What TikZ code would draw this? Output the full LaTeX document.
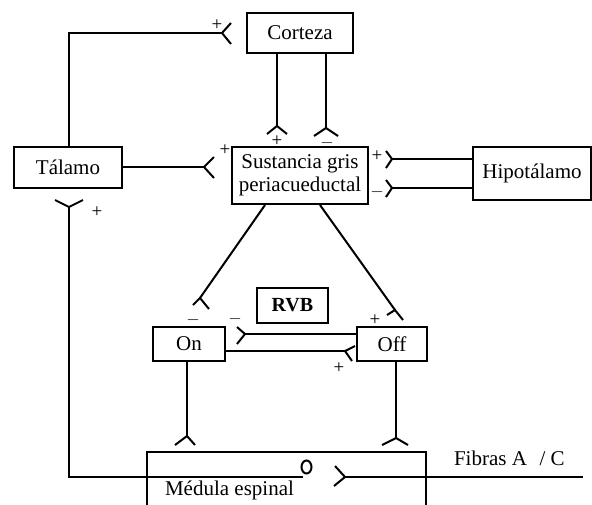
\documentclass[tikz,border=0pt]{standalone}
\usepackage{fontspec}
\setmainfont{Liberation Serif}
\begin{document}
\begin{tikzpicture}[x=1pt,y=-1pt,line width=2pt,
  box/.style={draw,line width=2pt,inner sep=0pt,font=\fontsize{21}{23}\selectfont,align=center},
  sgn/.style={inner sep=0pt,font=\fontsize{19}{19}\selectfont},
  txt/.style={inner sep=0pt,font=\fontsize{21}{23}\selectfont}]
\useasboundingbox (0,0) rectangle (592,504);
% boxes
\node[box,minimum width=106pt,minimum height=40pt] (cor) at (300,33) {Corteza};
\node[box,minimum width=108pt,minimum height=41pt] (tal) at (68,167.5) {Tálamo};
\node[box,minimum width=136pt,minimum height=57pt] (pag) at (300,175.5) {Sustancia gris\\periacueductal};
\node[box,minimum width=118pt,minimum height=53pt] (hip) at (532,173.5) {Hipotálamo};
\node[box,minimum width=71pt,minimum height=35pt,font=\fontsize{20}{22}\selectfont\bfseries] (rvb) at (292.5,305.5) {RVB};
\node[box,minimum width=72pt,minimum height=34pt] (on) at (189,344) {On};
\node[box,minimum width=70pt,minimum height=34pt] (off) at (392,344) {Off};
\node[box,minimum width=279pt,minimum height=78pt] (med) at (286.5,491) {};
\node[txt] (medl) at (229.5,490) {Médula espinal};
\node[txt,anchor=west] (fib) at (453,458) {Fibras A\hspace{0.6em}/ C};
% coordinates
\coordinate (tp) at (69,33);
\coordinate (f1) at (222,33);
\coordinate (f2) at (204,167);
\coordinate (f3) at (277,126);
\coordinate (f4) at (326,128);
\coordinate (f5) at (392,159);
\coordinate (f6) at (392,188);
\coordinate (f7) at (200,298);
\coordinate (f8) at (395,310);
\coordinate (f9) at (245,334);
\coordinate (f10) at (345,351);
\coordinate (f11) at (187,436);
\coordinate (f12) at (396,438);
\coordinate (f13) at (69,207);
\coordinate (c13) at (69,477);
\coordinate (o) at (303,477);
\coordinate (f14) at (345,477);
\coordinate (fe) at (583,477);
% Talamo -> Corteza
\draw (tal.north -| tp) -- (tp) -- (f1);
\draw (f1) ++(9,-10) -- (f1) -- ++(9,11);
\node[sgn] at (217,25) {+};
% Talamo -> PAG
\draw (tal.east |- f2) -- (f2);
\draw (f2) ++(10,-10) -- (f2) -- ++(10,11);
\node[sgn] at (225,150) {+};
% Corteza -> PAG
\draw (cor.south -| f3) -- (f3);
\draw (f3) ++(-10,8) -- (f3) -- ++(10,8);
\node[sgn] at (277,141) {+};
\draw (cor.south -| f4) -- (f4);
\draw (f4) ++(-12,8) -- (f4) -- ++(12,8);
\node[sgn] at (327,143) {$-$};
% Hipotalamo -> PAG
\draw (hip.west |- f5) -- (f5);
\draw (f5) ++(-6,-8) -- (f5) -- ++(-6,9);
\node[sgn] at (377,156) {+};
\draw (hip.west |- f6) -- (f6);
\draw (f6) ++(-6,-8) -- (f6) -- ++(-6,9);
\node[sgn] at (377,192) {$-$};
% PAG -> On / Off
\draw (pag.south -| 265,0) -- (f7);
\draw (f7) ++(-7,7) -- (f7) -- ++(9,11);
\node[sgn] at (193,320) {$-$};
\draw (pag.south -| 320,0) -- (f8);
\draw (f8) ++(-8,5) -- (f8) -- ++(8,10);
\node[sgn] at (375,320) {+};
% Off -> On , On -> Off
\draw (off.west |- f9) -- (f9);
\draw (f9) ++(-8,-7) -- (f9) -- ++(-8,10);
\node[sgn] at (235,319) {$-$};
\draw (on.east |- f10) -- (f10);
\draw (f10) ++(10,-5) -- (f10) -- ++(7,10);
\node[sgn] at (339,368) {+};
% On/Off -> Medula
\draw (on.south -| f11) -- (f11);
\draw (f11) ++(-12,9) -- (f11) -- ++(8,9);
\draw (off.south -| f12) -- (f12);
\draw (f12) ++(-14,7) -- (f12) -- ++(12,7);
% Medula -> Talamo
\draw (o) -- (c13) -- (f13);
\draw (f13) ++(-14,-7) -- (f13) -- ++(14,-7);
\node[sgn] at (97,212) {+};
\draw (306.5,467) ellipse [x radius=5pt,y radius=6.5pt];
% Fibras
\draw (fe) -- (f14);
\draw (f14) ++(-10,-11) -- (f14) -- ++(-11,9);
\end{tikzpicture}
\end{document}
